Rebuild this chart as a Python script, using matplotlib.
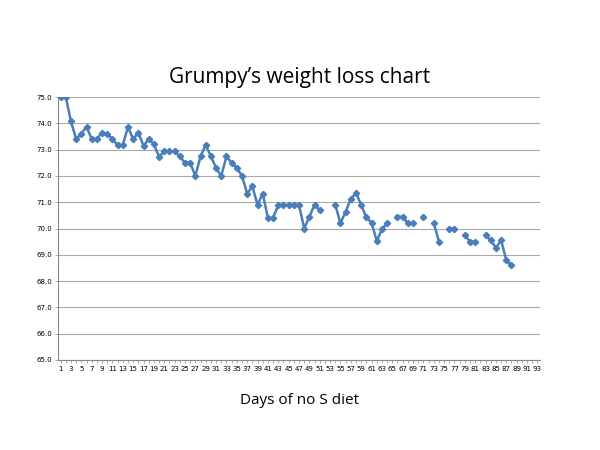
import matplotlib
matplotlib.use("Agg")
import matplotlib.pyplot as plt
import numpy as np

days = list(range(1, 89))
weights = [75.0, 75.0, 74.07, 73.4, 73.6, 73.87, 73.4, 73.4, 73.65, 73.6,
           73.4, 73.17, 73.17, 73.87, 73.4, 73.65, 73.14, 73.4, 73.2, 72.72,
           72.93, 72.93, 72.93, 72.74, 72.5, 72.5, 72.0, 72.74, 73.18, 72.74,
           72.3, 72.0, 72.74, 72.5, 72.3, 72.0, 71.33, 71.6, 70.9, 71.33,
           70.4, 70.4, 70.9, 70.9, 70.9, 70.9, 70.9, 70.0, 70.45, 70.9,
           70.7, None, None, 70.9, 70.2, 70.64, 71.13, 71.35, 70.9, 70.42,
           70.22, 69.53, 69.97, 70.2, None, 70.45, 70.45, 70.2, 70.2, None,
           70.45, None, 70.2, 69.5, None, 70.0, 70.0, None, 69.74, 69.5,
           69.5, None, 69.74, 69.55, 69.27, 69.55, 68.8, 68.6]
x_ticks = list(range(1, 94))
y_ticks = [65.0, 66.0, 67.0, 68.0, 69.0, 70.0, 71.0, 72.0, 73.0, 74.0, 75.0]

w = np.array([np.nan if v is None else v for v in weights], dtype=float)

fig = plt.figure(figsize=(6, 4.5), dpi=100)
ax = fig.add_axes([58/600, 90/450, 482/600, 263/450])
ax.plot(days, w, color="#4A7EBB", lw=1.8, marker="D", ms=3.2, zorder=3)
ax.set_xlim(0.5, 93.5)
ax.set_ylim(65, 75)
ax.set_yticks(y_ticks)
ax.set_yticklabels([f"{v:.1f}" for v in y_ticks], fontsize=5)
ax.set_xticks(x_ticks)
ax.set_xticklabels([str(d) if d % 2 == 1 else "" for d in x_ticks], fontsize=5)
ax.tick_params(axis="x", length=2, width=0.5, color="#888888", pad=2)
ax.tick_params(axis="y", length=2, width=0.5, color="#888888", pad=2)
ax.yaxis.grid(True, color="#AAAAAA", lw=0.8)
ax.set_axisbelow(True)
for s in ["top", "right"]:
    ax.spines[s].set_visible(False)
for s in ["left", "bottom"]:
    ax.spines[s].set_color("#888888")
    ax.spines[s].set_linewidth(0.8)
fig.text(0.5, 78/450 * -1 + 1, "Grumpy\u2019s weight loss chart", ha="center", va="center",
         fontsize=15, family="Open Sans")
fig.text(0.5, 1 - 400/450, "Days of no S diet", ha="center", va="center",
         fontsize=11, family="Open Sans")
fig.savefig("out.png", dpi=100)
